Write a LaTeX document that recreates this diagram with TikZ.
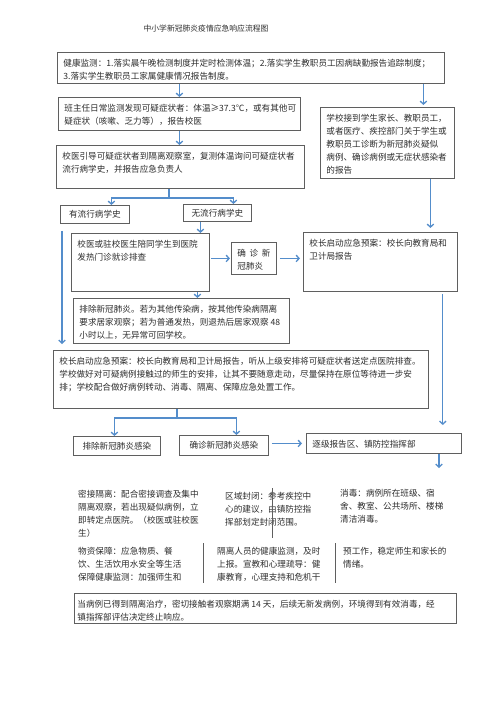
\documentclass[tikz,border=0pt]{standalone}
\usepackage{fontspec}
\usepackage{tikz}
\usetikzlibrary{calc,arrows.meta}
\newfontfamily\cjk{Noto Sans CJK SC}
\definecolor{flowblue}{RGB}{84,141,203}
\definecolor{boxgray}{RGB}{95,95,95}
\definecolor{inkgray}{RGB}{45,45,45}
\newcommand{\boxtext}[3]{\begin{minipage}[c][#2][t]{#1}\strut#3\end{minipage}}
\tikzset{
  flowbox/.style={draw=boxgray, line width=0.8pt, anchor=north west, inner xsep=6pt,
    inner ysep=5pt, text=inkgray, font=\cjk\fontsize{8.6}{13}\selectfont},
  tagbox/.style={draw=boxgray, line width=0.8pt, anchor=north west, inner sep=0pt,
    text=inkgray, font=\cjk\fontsize{8.6}{13}\selectfont},
  note/.style={anchor=north west, inner sep=0pt, text=inkgray,
    font=\cjk\fontsize{8.6}{13}\selectfont},
  flow/.style={draw=flowblue, line width=1.3pt, -{Straight Barb[length=3pt,width=6.5pt]}},
  link/.style={draw=flowblue, line width=1.3pt},
  rule/.style={draw=boxgray, line width=0.7pt}
}
\begin{document}
\begin{tikzpicture}[x=1pt,y=-1pt]
  \fill[white] (0,0) rectangle (500,707);
  \useasboundingbox (0,0) rectangle (500,707);
  % title
  \node[text=inkgray, font=\cjk\fontsize{7.8}{9}\selectfont] (title) at (206,29)
    {中小学新冠肺炎疫情应急响应流程图};
  % boxes
  \node[flowbox] (monitor) at (57,52) {\boxtext{375pt}{21pt}{健康监测：1.落实晨午晚检测制度并定时检测体温；2.落实学生教职员工因病缺勤报告追踪制度；\\
    3.落实学生教职员工家属健康情况报告制度。}};
  \node[flowbox] (suspect) at (58,97) {\boxtext{230pt}{23pt}{班主任日常监测发现可疑症状者：体温≥37.3℃，或有其他可\\
    疑症状（咳嗽、乏力等），报告校医}};
  \node[flowbox] (guide) at (56,145) {\boxtext{236pt}{33pt}{校医引导可疑症状者到隔离观察室，复测体温询问可疑症状者\\
    流行病学史，并报告应急负责人}};
  \node[flowbox] (notify) at (320,107) {\boxtext{122pt}{61pt}{学校接到学生家长、教职员工，\\
    或者医疗、疾控部门关于学生或\\教职员工诊断为新冠肺炎疑似\\病例、确诊病例或无症状感染者\\的报告}};
  \node[tagbox, minimum width=69pt, minimum height=18pt] (hist) at (60,205) {有流行病学史};
  \node[tagbox, minimum width=68pt, minimum height=17pt] (nohist) at (183,204) {无流行病学史};
  \node[flowbox] (hosp) at (71,233) {\boxtext{126pt}{48pt}{校医或驻校医生陪同学生到医院\\发热门诊就诊排查}};
  \node[flowbox] (conf) at (231,242) {\boxtext{33pt}{22pt}{确\hfill 诊\hfill 新\\冠肺炎}};
  \node[flowbox] (head1) at (303,232) {\boxtext{142pt}{49pt}{校长启动应急预案：校长向教育局和\\卫计局报告}};
  \node[flowbox] (excl) at (73,298) {\boxtext{204pt}{35pt}{排除新冠肺炎。若为其他传染病，按其他传染病隔离\\
    要求居家观察；若为普通发热，则退热后居家观察 48\\小时以上，无异常可回学校。}};
  \node[flowbox] (bigbox) at (53,350) {\boxtext{363pt}{48pt}{校长启动应急预案：校长向教育局和卫计局报告，听从上级安排将可疑症状者送定点医院排查。\\
    学校做好对可疑病例接触过的师生的安排，让其不要随意走动，尽量保持在原位等待进一步安\\
    排；学校配合做好病例转动、消毒、隔离、保障应急处置工作。}};
  \node[tagbox, minimum width=87pt, minimum height=19pt] (noinf) at (73,436) {排除新冠肺炎感染};
  \node[tagbox, minimum width=89pt, minimum height=20pt] (inf) at (179,435) {确诊新冠肺炎感染};
  \node[flowbox] (escal) at (306,433) {\boxtext{143pt}{10pt}{逐级报告区、镇防控指挥部}};
  \node[flowbox, inner xsep=3pt] (final) at (74,593) {\boxtext{376pt}{20pt}{当病例已得到隔离治疗，密切接触者观察期满 14 天，后续无新发病例，环境得到有效消毒，经\\
    镇指挥部评估决定终止响应。}};
  % bottom table
  \node[note] (iso) at (78,488.4) {\boxtext{125pt}{50pt}{密接隔离：配合密接调查及集中\\隔离观察，若出现疑似病例，立\\即转定点医院。（校医或驻校医\\生）}};
  \node[note] (zone) at (225,490.4) {\boxtext{90pt}{40pt}{区域封闭：参考疾控中\\心的建议，由镇防控指\\挥部划定封闭范围。}};
  \node[note] (disinf) at (340,487.4) {\boxtext{110pt}{40pt}{消毒：病例所在班级、宿\\舍、教室、公共场所、楼梯\\清洁消毒。}};
  \node[note] (supply) at (78,545.4) {\boxtext{112pt}{40pt}{物资保障：应急物质、餐\\饮、生活饮用水安全等生活\\保障健康监测：加强师生和}};
  \node[note] (health) at (217,545.4) {\boxtext{112pt}{40pt}{隔离人员的健康监测，及时\\上报。宣教和心理疏导：健\\康教育，心理支持和危机干}};
  \node[note] (calm) at (343,545.4) {\boxtext{112pt}{40pt}{预工作，稳定师生和家长的\\情绪。}};
  \draw[rule] (272,488) -- (272,538);
  \draw[rule] (203,543) -- (203,583);
  \draw[rule] (335,543) -- (335,583);
  % arrows
  \draw[flow] (monitor.south -| suspect.north) -- (suspect.north);
  \draw[flow, shorten >=2pt] ([xshift=36pt]notify.north |- monitor.south) -- ([xshift=36pt]notify.north);
  \draw[flow] (suspect.south) -- (suspect.south |- guide.north);
  \coordinate (fork) at (169,198);
  \draw[link] (fork |- guide.south) -- (fork);
  \draw[flow] (fork) -| ([xshift=16.5pt]hist.north);
  \draw[flow] (fork) -| ([xshift=16pt]nohist.north);
  \draw[flow] ([xshift=-17pt]nohist.south) -- ([xshift=-17pt]nohist.south |- hosp.north);
  \draw[flow, shorten <=1pt, shorten >=1pt] (hosp.east |- conf.west) -- (conf.west);
  \draw[flow, shorten <=3pt, shorten >=3pt] (conf.east) -- (conf.east -| head1.west);
  \draw[flow] ([xshift=57pt]hosp.south) -- ([xshift=57pt]hosp.south |- excl.north);
  \draw[flow, shorten >=4pt] ([xshift=43pt]notify.south) -- ([xshift=43pt]notify.south |- head1.north);
  \draw[flow, shorten <=7pt, shorten >=6pt] ([xshift=2pt]hist.south west) -- ([xshift=2pt]hist.south west |- bigbox.north);
  \draw[flow, shorten <=2pt, shorten >=8pt] ([xshift=-15pt]head1.south east) -- ([xshift=-15pt]head1.south east |- escal.north);
  \coordinate (fork2) at (177,418);
  \draw[link] (fork2 |- bigbox.south) -- (fork2);
  \draw[flow] (fork2) -| ([xshift=-2.5pt]noinf.north);
  \draw[flow] (fork2) -| ([xshift=12.5pt]inf.north);
  \draw[flow, shorten <=3pt, shorten >=4pt] (inf.east |- escal.west) -- (escal.west);
  \coordinate (tail) at (439,468);
  \draw[flow] (escal.south -| tail) -- (tail);
\end{tikzpicture}
\end{document}
